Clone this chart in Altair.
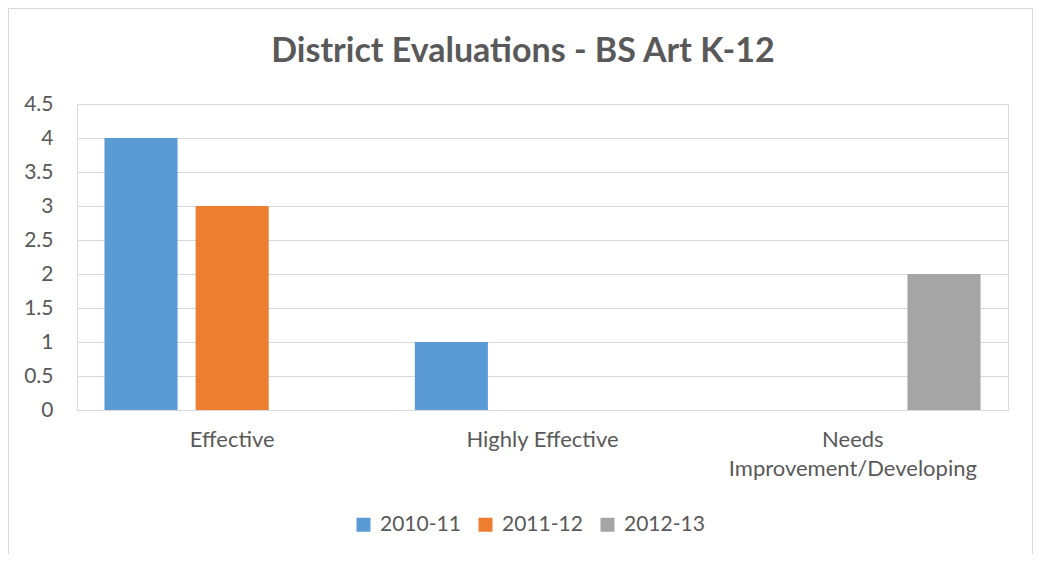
import altair as alt
import pandas as pd

categories = ["Effective", "Highly Effective", "Needs Improvement/Developing"]
series = ["2010-11", "2011-12", "2012-13"]
values_2010_11 = [4, 1, 0]
values_2011_12 = [3, 0, 0]
values_2012_13 = [0, 0, 2]
colors = ["#5B9BD5", "#ED7D31", "#A5A5A5"]
y_ticks = [0, 0.5, 1, 1.5, 2, 2.5, 3, 3.5, 4, 4.5]
title_text = "District Evaluations - BS Art K-12"

rows = []
for s, vals in zip(series, [values_2010_11, values_2011_12, values_2012_13]):
    for c, v in zip(categories, vals):
        rows.append({"category": c, "series": s, "value": v})
df = pd.DataFrame(rows)

FONT = "Lato"
TXT = "#595959"
W, H = 931, 306

bars = alt.Chart(df).mark_bar().encode(
    x=alt.X("category:N", sort=categories, title=None,
            scale=alt.Scale(paddingInner=0.177, paddingOuter=0.0885),
            axis=alt.Axis(labelAngle=0, ticks=False, tickSize=0, domain=True,
                          domainColor="#D9D9D9", labelPadding=19, labelLimit=0,
                          labelFont=FONT, labelFontSize=22, labelColor=TXT,
                          labelLineHeight=29, labelBaseline="top",
                          labelExpr="datum.label == 'Needs Improvement/Developing' ? ['Needs', 'Improvement/Developing'] : datum.label")),
    xOffset=alt.XOffset("series:N", sort=series,
                        scale=alt.Scale(paddingInner=0.198, paddingOuter=0)),
    y=alt.Y("value:Q", title=None,
            scale=alt.Scale(domain=[0, 4.5], nice=False),
            axis=alt.Axis(values=y_ticks, ticks=False, tickSize=0, domain=False,
                          grid=True, gridColor="#D9D9D9", gridWidth=1,
                          labelPadding=24, labelFont=FONT, labelFontSize=21,
                          labelColor=TXT, minExtent=60, maxExtent=60,
                          labelExpr="datum.value")),
    color=alt.Color("series:N", sort=series,
                    scale=alt.Scale(domain=series, range=colors),
                    legend=alt.Legend(title=None, orient="none", direction="horizontal",
                                      legendX=276, legendY=410, symbolType="square",
                                      symbolSize=196, symbolStrokeWidth=0,
                                      labelFont=FONT, labelFontSize=21, labelColor=TXT,
                                      labelOffset=6, columnPadding=14, padding=0)),
)

title = alt.Chart().mark_text(font=FONT, fontSize=34, fontWeight="bold", color=TXT,
                              align="center", baseline="alphabetic").encode(
    x=alt.value(446), y=alt.value(-42), text=alt.value(title_text))

border_left = alt.Chart().mark_rule(color="#D9D9D9", strokeWidth=1).encode(
    x=alt.value(-68.5), y=alt.value(-95.5), y2=alt.value(460))
border_top = alt.Chart().mark_rule(color="#D9D9D9", strokeWidth=1).encode(
    x=alt.value(-68.5), x2=alt.value(955.5), y=alt.value(-95.5))
border_right = alt.Chart().mark_rule(color="#D9D9D9", strokeWidth=1).encode(
    x=alt.value(955.5), y=alt.value(-95.5), y2=alt.value(460))

chart = alt.layer(bars, title, border_left, border_top, border_right).properties(
    width=W, height=H,
    autosize=alt.AutoSizeParams(type="none"),
    padding={"left": 69, "top": 96, "right": 25, "bottom": 144},
).configure_view(stroke=None).configure(background="white")

chart.save("out.html", embed_options={"renderer": "svg", "actions": False})
